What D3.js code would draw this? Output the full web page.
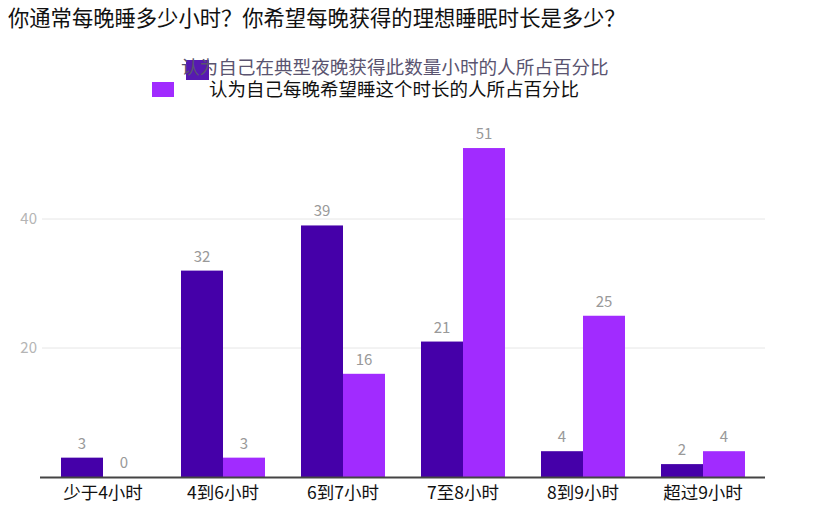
<!DOCTYPE html>
<html><head><meta charset="utf-8">
<script src="https://cdn.jsdelivr.net/npm/d3@7/dist/d3.min.js"></script>
<style>body{margin:0;background:#fff;font-family:"Noto Sans CJK SC","Noto Sans",sans-serif;}</style>
</head><body><svg id="c" width="840" height="524"></svg>
<script>
const title = "你通常每晚睡多少小时？你希望每晚获得的理想睡眠时长是多少？";
const categories = ["少于4小时","4到6小时","6到7小时","7至8小时","8到9小时","超过9小时"];
const seriesNames = ["认为自己在典型夜晚获得此数量小时的人所占百分比","认为自己每晚希望睡这个时长的人所占百分比"];
const actualValues = [3,32,39,21,4,2];
const desiredValues = [0,3,16,51,25,4];
const yTicks = [20,40];
const colors = ["#4500a9","#a12bff"];

const svg = d3.select("#c");
const font = '"Noto Sans CJK SC","Noto Sans",sans-serif';
svg.append("text").attr("x",8).attr("y",26).attr("font-size",21.3).attr("font-family",font).attr("fill","#111").text(title);

const x0 = d3.scaleBand().domain(categories).range([43,763]).paddingInner(0.3).paddingOuter(0.15);
const x1 = d3.scaleBand().domain([0,1]).range([0,x0.bandwidth()]);
const y = d3.scaleLinear().domain([0,40]).range([477,219]);

// grid
svg.append("g").selectAll("line").data(yTicks).join("line")
  .attr("x1",42).attr("x2",765).attr("y1",d=>y(d)).attr("y2",d=>y(d)).attr("stroke","#e6e6e6");
svg.append("g").selectAll("text").data(yTicks).join("text")
  .attr("x",37).attr("y",d=>y(d)+5).attr("text-anchor","end").attr("font-size",15).attr("font-family",font).attr("fill","#b5b5b5").text(d=>d);

const data = categories.map((c,i)=>({c, v:[actualValues[i],desiredValues[i]]}));
const g = svg.append("g");
data.forEach(d=>{
  d.v.forEach((v,j)=>{
    const bx = x0(d.c)+x1(j);
    g.append("rect").attr("x",bx).attr("y",y(v)).attr("width",x1.bandwidth()).attr("height",y(0)-y(v)).attr("fill",colors[j]);
    g.append("text").attr("x",bx+x1.bandwidth()/2).attr("y",y(v)-9).attr("text-anchor","middle")
      .attr("font-size",15).attr("font-family",font).attr("fill","#999").text(v);
  });
});

// axis
svg.append("line").attr("x1",40).attr("x2",765).attr("y1",477.5).attr("y2",477.5).attr("stroke","#444").attr("stroke-width",2);
svg.append("g").selectAll("text").data(categories).join("text")
  .attr("x",d=>x0(d)+x0.bandwidth()/2).attr("y",499).attr("text-anchor","middle")
  .attr("font-size",17.5).attr("font-family",font).attr("fill","#111").text(d=>d);

// legend
svg.append("rect").attr("x",186).attr("y",60).attr("width",23).attr("height",20).attr("fill",colors[0]).attr("opacity",0.9);
svg.append("text").attr("x",181).attr("y",73.5).attr("font-size",18.6).attr("font-family",font).attr("fill","#5a5470").text(seriesNames[0]);
svg.append("rect").attr("x",152).attr("y",82).attr("width",22).attr("height",15).attr("fill",colors[1]);
svg.append("text").attr("x",209).attr("y",96).attr("font-size",18.5).attr("font-family",font).attr("fill","#111").text(seriesNames[1]);
</script></body></html>
